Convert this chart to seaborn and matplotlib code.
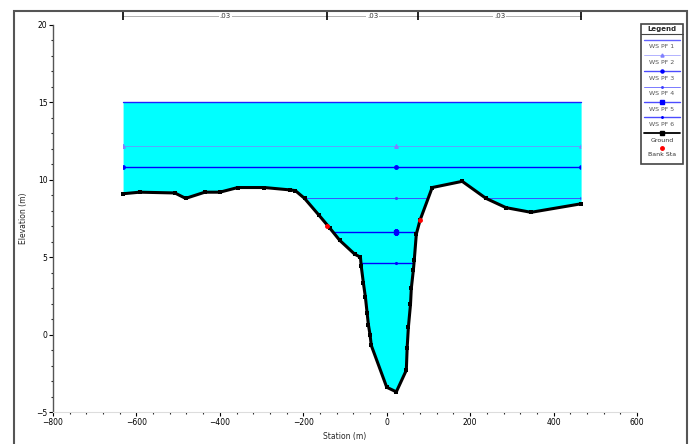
import numpy as np
import pandas as pd
import matplotlib
matplotlib.use("Agg")
import matplotlib.pyplot as plt
from matplotlib.patches import Rectangle
from matplotlib.lines import Line2D
import seaborn as sns

# ---------------- data ----------------
ground_station = [-632, -592, -508, -482, -436, -400, -357, -293, -233, -219, -197, -162,
                  -137, -113, -77, -63, -61, -56, -51, -47, -44, -40, -37, 0, 23, 47, 49,
                  52, 57, 59, 64, 66, 71, 80, 109, 181, 238, 286, 346, 466]
ground_elev = [9.1, 9.2, 9.15, 8.8, 9.2, 9.2, 9.5, 9.5, 9.35, 9.3, 8.8, 7.7,
               6.9, 6.1, 5.2, 5.0, 4.4, 3.35, 2.4, 1.4, 0.65, 0.0, -0.7, -3.4, -3.7, -2.3, -0.85,
               0.5, 1.95, 3.0, 4.2, 4.8, 6.5, 7.4, 9.5, 9.9, 8.8, 8.2, 7.9, 8.45]
bank_station = [-144, 80]
bank_elev = [7.0, 7.4]
ws_names = ["WS PF 1", "WS PF 2", "WS PF 3", "WS PF 4", "WS PF 5", "WS PF 6"]
ws_elev = [15.0, 12.2, 10.85, 8.8, 6.6, 4.6]
ws_marker_station = [-632, 23, 466]
n_breaks = [-632, -142, 75, 466]
n_values = [".03", ".03", ".03"]
x_ticks = [-800, -600, -400, -200, 0, 200, 400, 600]
y_ticks = [-5, 0, 5, 10, 15, 20]

ws_styles = [
    dict(color="#2020ff", lw=1.0, marker=None, alpha=1.0),
    dict(color="#8080ff", lw=0.6, marker="^", alpha=0.8),
    dict(color="#0000ff", lw=1.0, marker="o", alpha=1.0),
    dict(color="#4040ff", lw=0.7, marker=".", alpha=0.9),
    dict(color="#0000ff", lw=1.0, marker="s", alpha=1.0),
    dict(color="#0000ff", lw=1.0, marker=".", alpha=1.0),
]

# ---------------- figure ----------------
sns.set_style("white")
plt.rcParams["font.family"] = ["DejaVu Sans"]
W, H = 694, 444
fig = plt.figure(figsize=(W / 100, H / 100), dpi=100)
ax = fig.add_axes([53 / W, 1 - 412 / H, (637 - 53) / W, (412 - 25) / H])

gdf = pd.DataFrame({"station": ground_station, "elev": ground_elev})
xs = np.array(ground_station, dtype=float)
ys = np.array(ground_elev, dtype=float)
wmax = max(ws_elev)

# water fill
water = ax.fill_between(xs, ys, wmax, color="#00ffff", zorder=1, lw=0)
wpath = water.get_paths()[0]

# water surface lines, clipped to wetted area
for name, lvl, st in zip(ws_names, ws_elev, ws_styles):
    ln, = ax.plot([xs.min(), xs.max()], [lvl, lvl], color=st["color"], lw=st["lw"],
                  alpha=st["alpha"], zorder=2)
    if lvl < wmax:
        ln.set_clip_path(wpath, ax.transData)
    if st["marker"] is not None:
        mk, = ax.plot(ws_marker_station, [lvl] * len(ws_marker_station), ls="none",
                      marker=st["marker"], ms=2.5, color=st["color"], zorder=2)
        mk.set_clip_path(wpath, ax.transData)

# ground
sns.lineplot(data=gdf, x="station", y="elev", ax=ax, color="black", lw=2.2,
             marker="s", markersize=2.5, markeredgewidth=0, sort=False, zorder=4)
ax.plot(bank_station, bank_elev, ls="none", marker="o", ms=2.5, color="red", zorder=5)

# n-values line at top
ny = 20.58
ax.plot([n_breaks[0], n_breaks[-1]], [ny, ny], color="#b0b0b0", lw=0.7, clip_on=False, zorder=5)
ax.plot(n_breaks, [ny] * len(n_breaks), ls="none", marker="|", ms=6, mew=1.2,
        color="black", clip_on=False, zorder=6)
for a, b, nv in zip(n_breaks[:-1], n_breaks[1:], n_values):
    ax.text((a + b) / 2, ny, nv, ha="center", va="center", fontsize=5, color="#333333",
            bbox=dict(facecolor="white", edgecolor="none", pad=0.6), clip_on=False, zorder=7)

ax.set_xlim(-800, 600)
ax.set_ylim(-5, 20)
ax.set_xticks(x_ticks)
ax.set_yticks(y_ticks)
ax.set_xticks(np.arange(-800, 601, 40), minor=True)
ax.set_yticks(np.arange(-5, 20.1, 1), minor=True)
ax.tick_params(axis="both", which="major", labelsize=5.5, length=3, width=0.8,
               direction="out", pad=1, colors="black")
ax.tick_params(axis="both", which="minor", length=1.5, width=0.8, direction="out")
ax.tick_params(left=True, bottom=True, which="both")
for s in ["top", "right"]:
    ax.spines[s].set_visible(False)
ax.spines["left"].set_color("#555555")
ax.spines["left"].set_linewidth(1.0)
ax.spines["bottom"].set_color("#dddddd")
ax.spines["bottom"].set_linewidth(0.8)
ax.set_xlabel("Station (m)", fontsize=5.5, labelpad=4)
ax.set_ylabel("Elevation (m)", fontsize=5.5, labelpad=6)
ax.patch.set_alpha(0)

# outer frame
fig.patches.append(Rectangle((14 / W, -0.05), (687 - 14) / W, 1.05 - 11 / H,
                             transform=fig.transFigure, fill=False,
                             edgecolor="#555555", lw=1.5))

# legend box (drawn manually in figure coords)
lx0, lx1, ly0, ly1 = 641, 683, 24, 164
def fx(px): return px / W
def fy(py): return 1 - py / H
fig.patches.append(Rectangle((fx(lx0), fy(ly1)), (lx1 - lx0) / W, (ly1 - ly0) / H,
                             transform=fig.transFigure, facecolor="white",
                             edgecolor="#444444", lw=1.2, zorder=10))
fig.text(fx((lx0 + lx1) / 2), fy(29), "Legend", fontsize=5, ha="center", va="center",
         fontweight="bold", zorder=11)
fig.lines.append(Line2D([fx(lx0), fx(lx1)], [fy(34), fy(34)], transform=fig.transFigure,
                        color="#444444", lw=0.8, zorder=11))
cx = (lx0 + lx1) / 2
for i, (name, st) in enumerate(zip(ws_names, ws_styles)):
    yl = 40 + i * 15.5
    fig.lines.append(Line2D([fx(lx0 + 3), fx(lx1 - 3)], [fy(yl), fy(yl)],
                            transform=fig.transFigure, color=st["color"], lw=st["lw"],
                            alpha=0.7, zorder=11))
    if st["marker"] is not None:
        fig.lines.append(Line2D([fx(cx)], [fy(yl)], transform=fig.transFigure, ls="none",
                                marker=st["marker"], ms=2.2, color=st["color"], zorder=11))
    fig.text(fx(cx), fy(yl + 7), name, fontsize=4.5, ha="center", va="center",
             color="#555555", zorder=11)
fig.lines.append(Line2D([fx(lx0 + 3), fx(lx1 - 3)], [fy(133), fy(133)],
                        transform=fig.transFigure, color="black", lw=1.3, zorder=11))
fig.lines.append(Line2D([fx(cx)], [fy(133)], transform=fig.transFigure, ls="none",
                        marker="s", ms=2.5, color="black", zorder=11))
fig.text(fx(cx), fy(141), "Ground", fontsize=4.5, ha="center", va="center",
         color="#333333", zorder=11)
fig.lines.append(Line2D([fx(cx)], [fy(148)], transform=fig.transFigure, ls="none",
                        marker="o", ms=2.5, color="red", zorder=11))
fig.text(fx(cx), fy(155), "Bank Sta", fontsize=4.5, ha="center", va="center",
         color="#333333", zorder=11)

fig.savefig("out.png", dpi=100)
